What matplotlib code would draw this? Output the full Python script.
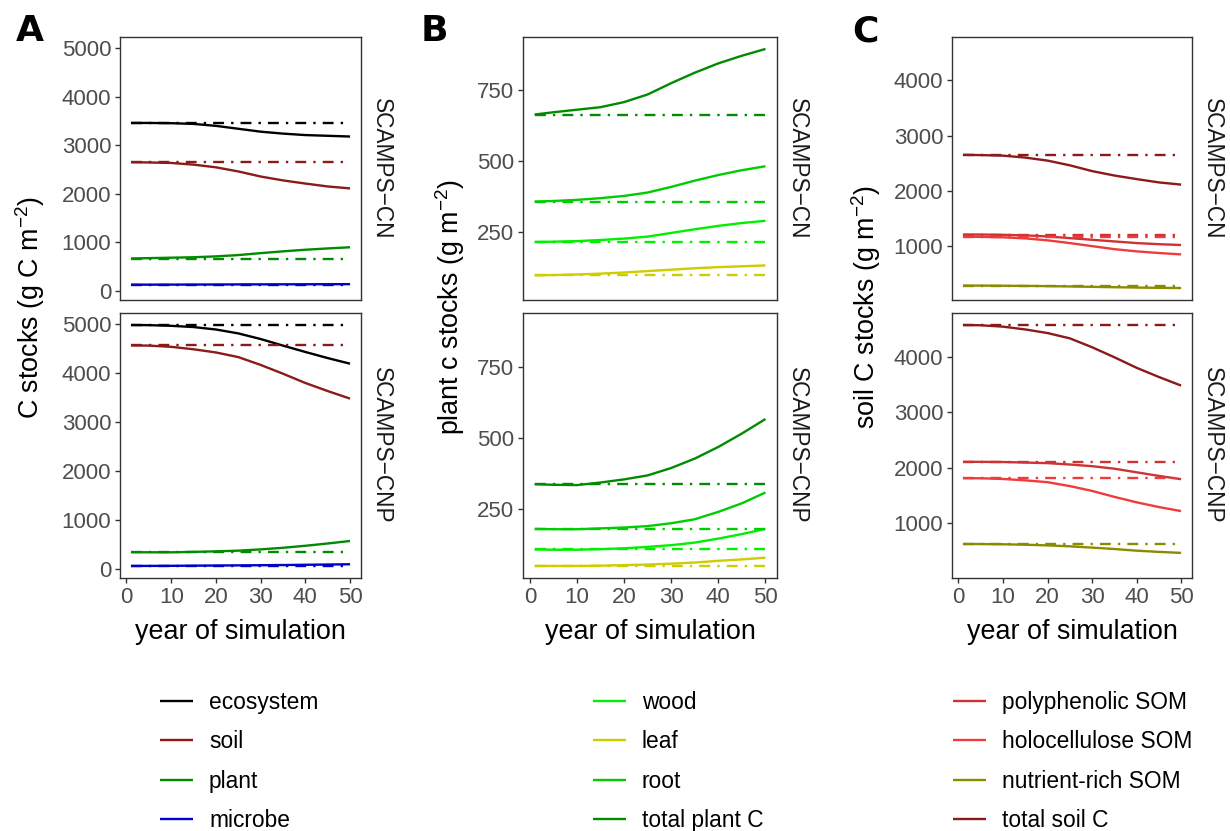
import numpy as np
import matplotlib
matplotlib.use('Agg')
import matplotlib.pyplot as plt

plt.rcParams['font.family'] = ['Liberation Sans', 'DejaVu Sans']
plt.rcParams['mathtext.fontset'] = 'custom'
plt.rcParams['mathtext.rm'] = 'Liberation Sans'
plt.rcParams['mathtext.it'] = 'Liberation Sans:italic'
plt.rcParams['axes.unicode_minus'] = True

# years of simulation
years = [1, 5, 10, 15, 20, 25, 30, 35, 40, 45, 50]
scenarios = ['SCAMPS\u2212CN', 'SCAMPS\u2212CNP']

# A: ecosystem C pools  (CN, CNP)
eco_cn = [3460, 3460, 3455, 3440, 3400, 3340, 3280, 3240, 3210, 3195, 3180]
eco_cnp = [4986, 4984, 4970, 4945, 4895, 4815, 4700, 4565, 4435, 4310, 4195]
soil_cn = [2650, 2645, 2635, 2600, 2545, 2460, 2355, 2275, 2210, 2150, 2110]
soil_cnp = [4569, 4565, 4540, 4490, 4425, 4330, 4170, 3990, 3800, 3635, 3480]
plant_cn = [664, 672, 681, 690, 708, 735, 775, 812, 845, 872, 896]
plant_cnp = [337, 335, 334, 343, 354, 368, 394, 427, 468, 515, 566]
microbe_cn = [125, 125, 126, 127, 128, 130, 131, 132, 133, 134, 135]
microbe_cnp = [55, 56, 58, 61, 64, 67, 70, 74, 79, 84, 90]

# B: plant C pools
wood_cn = [213, 214, 216, 220, 225, 232, 245, 258, 270, 280, 288]
wood_cnp = [108, 107, 107, 109, 112, 117, 123, 132, 146, 162, 180]
leaf_cn = [95, 96, 98, 101, 105, 110, 115, 120, 124, 127, 130]
leaf_cnp = [50, 50, 50, 51, 53, 55, 58, 62, 68, 73, 79]
root_cn = [356, 358, 362, 368, 376, 388, 408, 430, 450, 467, 481]
root_cnp = [180, 179, 179, 182, 185, 190, 200, 214, 240, 270, 308]

# C: soil C pools
poly_cn = [1205, 1205, 1200, 1190, 1170, 1140, 1110, 1080, 1050, 1030, 1015]
poly_cnp = [2108, 2108, 2105, 2095, 2085, 2060, 2030, 1985, 1920, 1855, 1796]
holo_cn = [1165, 1163, 1155, 1135, 1100, 1050, 995, 940, 900, 870, 845]
holo_cnp = [1814, 1812, 1800, 1775, 1742, 1672, 1585, 1478, 1380, 1295, 1222]
nrich_cn = [280, 279, 277, 274, 270, 264, 257, 250, 244, 239, 235]
nrich_cnp = [630, 629, 625, 617, 605, 588, 565, 540, 510, 488, 470]

panels = [
    dict(letter='A', left=120, right=361, letter_x=30, ylab_x=30, leg_x=160,
         ylabel=r'C stocks (g C m$^{-2}$)', yticks=[0, 1000, 2000, 3000, 4000, 5000],
         series=[('ecosystem', 'black', eco_cn, eco_cnp),
                 ('soil', '#8B1A1A', soil_cn, soil_cnp),
                 ('plant', '#008B00', plant_cn, plant_cnp),
                 ('microbe', '#0000CD', microbe_cn, microbe_cnp)]),
    dict(letter='B', left=523, right=777, letter_x=434, ylab_x=450, leg_x=593,
         ylabel=r'plant c stocks (g m$^{-2}$)', yticks=[250, 500, 750],
         series=[('wood', '#00F000', wood_cn, wood_cnp),
                 ('leaf', '#CDCD00', leaf_cn, leaf_cnp),
                 ('root', '#00CD00', root_cn, root_cnp),
                 ('total plant C', '#008B00', plant_cn, plant_cnp)]),
    dict(letter='C', left=952, right=1192, letter_x=865, ylab_x=866, leg_x=953,
         ylabel=r'soil C stocks (g m$^{-2}$)', yticks=[1000, 2000, 3000, 4000],
         series=[('polyphenolic SOM', '#CD3333', poly_cn, poly_cnp),
                 ('holocellulose SOM', '#EE3B3B', holo_cn, holo_cnp),
                 ('nutrient-rich SOM', '#8B8B00', nrich_cn, nrich_cnp),
                 ('total soil C', '#8B1A1A', soil_cn, soil_cnp)]),
]

W, H = 1230, 831
LW = 1.7
fig = plt.figure(figsize=(W / 100, H / 100), dpi=100)


def box(l, t, r, b):
    return [l / W, 1 - b / H, (r - l) / W, (b - t) / H]


def style(ax):
    for s in ax.spines.values():
        s.set_color('#333333')
        s.set_linewidth(1.0)
    ax.tick_params(colors='#333333', length=3.8, width=1.0, labelsize=16,
                   labelcolor='#4D4D4D', pad=2.5)


for p in panels:
    allv = [v for s in p['series'] for v in s[2] + s[3]]
    lo, hi = min(allv), max(allv)
    pad = 0.05 * (hi - lo)
    xpad = 0.05 * (years[-1] - years[0])
    handles = []
    for k, (top, bot) in enumerate([(37, 300), (313, 578)]):
        ax = fig.add_axes(box(p['left'], top, p['right'], bot))
        for lab, col, cn, cnp in p['series']:
            vals = [cn, cnp][k]
            ax.plot(years, [vals[0]] * len(years), color=col, lw=LW,
                    dashes=(4.6, 3, 1, 3), dash_capstyle='butt')
            h, = ax.plot(years, vals, color=col, lw=LW, solid_capstyle='butt')
            if k == 0:
                handles.append(h)
        ax.set_ylim(lo - pad, hi + pad)
        ax.set_xlim(years[0] - xpad, years[-1] + xpad)
        ax.set_yticks(p['yticks'])
        ax.set_xticks([0, 10, 20, 30, 40, 50])
        style(ax)
        if k == 0:
            ax.tick_params(axis='x', bottom=False, labelbottom=False)
        else:
            ax.set_xlabel('year of simulation', fontsize=19.4, labelpad=8)
        ax.annotate(scenarios[k], xy=(1, 0.5), xycoords='axes fraction',
                    xytext=(15, 0), textcoords='offset points', rotation=-90,
                    ha='center', va='center', fontsize=16.3, color='#1A1A1A')
    fig.text(p['ylab_x'] / W, 1 - 307.5 / H, p['ylabel'], rotation=90,
             ha='center', va='center', fontsize=19.4)
    fig.text(p['letter_x'] / W, 1 - 31 / H, p['letter'], ha='center', va='center',
             fontsize=26, fontweight='bold', family='DejaVu Sans')
    fig.legend(handles, [s[0] for s in p['series']], loc='upper left',
               bbox_to_anchor=(p['leg_x'] / W, 1 - 691 / H), frameon=False,
               fontsize=16.4, handlelength=1.45, handletextpad=0.7,
               labelspacing=0.72, borderpad=0, borderaxespad=0)

fig.savefig('out.png', dpi=100)
